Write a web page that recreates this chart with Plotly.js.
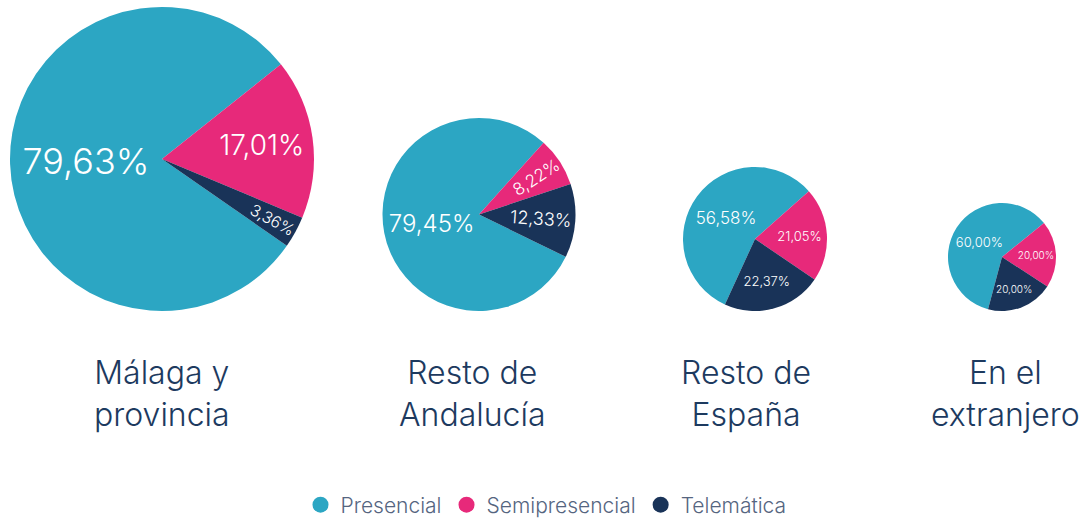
<!DOCTYPE html>
<html>
<head>
<meta charset="utf-8">
<script src="https://cdn.plot.ly/plotly-3.0.1.min.js"></script>
<style>html,body{margin:0;padding:0;background:#fff;}#chart{width:1092px;height:519px;}</style>
</head>
<body>
<div id="chart"></div>
<script>
// ---- data ----
const categories = ['Málaga y<br>provincia', 'Resto de<br>Andalucía', 'Resto de<br>España', 'En el<br>extranjero'];
const modalities = ['Presencial', 'Semipresencial', 'Telemática'];
const presencial = [79.63, 79.45, 56.58, 60.00];
const semipresencial = [17.01, 8.22, 21.05, 20.00];
const telematica = [3.36, 12.33, 22.37, 20.00];

// ---- style ----
const W = 1092, H = 519;
const FONT = 'Inter, Lato, "Open Sans", sans-serif';
const colors = ['#2ca6c3', '#e7297a', '#193358'];
// pixel geometry of each pie: center x, bottom y, radius
const pieGeom = [
  {cx: 162, bottom: 311, r: 152},
  {cx: 479, bottom: 311, r: 96.5},
  {cx: 755, bottom: 311, r: 72},
  {cx: 1002, bottom: 311, r: 54}
];
const rotations = [124.8, 116, 204.7, 195];
const textSizes = [[36, 28, 16], [24, 18, 18], [17, 13, 13], [13, 10, 10]];
const titleCx = [162, 472, 746, 1006];

const traces = [];
const annotations = [];
categories.forEach((cat, i) => {
  const g = pieGeom[i];
  const top = g.bottom - 2 * g.r;
  traces.push({
    type: 'pie',
    labels: modalities,
    values: [presencial[i], semipresencial[i], telematica[i]],
    sort: false,
    direction: 'clockwise',
    rotation: rotations[i],
    marker: {colors: colors, line: {width: 0}},
    texttemplate: '%{value:.2f}%',
    textposition: 'inside',
    insidetextorientation: 'auto',
    textfont: {family: FONT, color: '#ffffff', size: textSizes[i], weight: 300},
    hoverinfo: 'skip',
    showlegend: false,
    domain: {x: [(g.cx - g.r) / W, (g.cx + g.r) / W], y: [1 - g.bottom / H, 1 - top / H]}
  });
  annotations.push({
    text: cat,
    x: titleCx[i] / W, xref: 'paper', xanchor: 'center',
    y: 1 - 393 / H, yref: 'paper', yanchor: 'middle',
    showarrow: false,
    font: {family: FONT, size: 32, color: '#1d3a5f', weight: 300}
  });
});

// legend entries (circle markers)
modalities.forEach((m, k) => {
  traces.push({
    type: 'scatter', mode: 'markers', x: [null], y: [null],
    name: m, marker: {color: colors[k], size: 16, symbol: 'circle'},
    hoverinfo: 'skip', showlegend: true
  });
});

const layout = {
  width: W, height: H,
  margin: {l: 0, r: 0, t: 0, b: 0, autoexpand: false},
  paper_bgcolor: '#ffffff', plot_bgcolor: '#ffffff',
  separators: ',.',
  showlegend: true,
  legend: {
    orientation: 'h', x: 0.5, xanchor: 'center', y: 1 - 505 / H, yanchor: 'middle',
    font: {family: FONT, size: 21, color: '#55657f', weight: 300},
    itemsizing: 'trace', traceorder: 'normal', itemwidth: 30
  },
  xaxis: {visible: false, range: [0, 1], fixedrange: true},
  yaxis: {visible: false, range: [0, 1], fixedrange: true},
  annotations: annotations
};

Plotly.newPlot('chart', traces, layout, {displayModeBar: false, staticPlot: true});
</script>
</body>
</html>
